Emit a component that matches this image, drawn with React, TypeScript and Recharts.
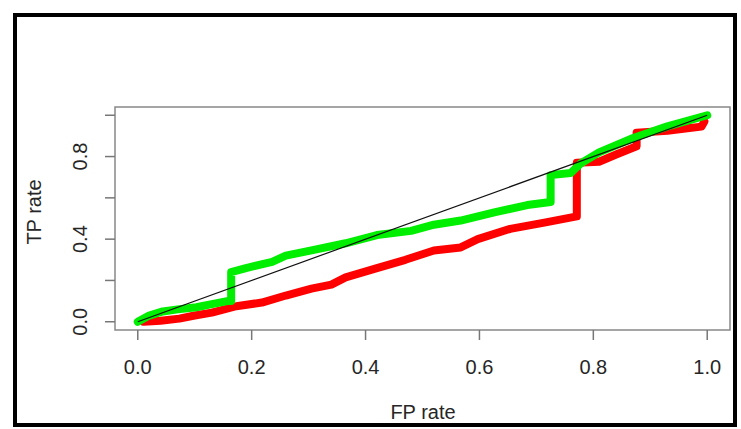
import React from "react";
import { Line, LineChart, ReferenceArea, XAxis, YAxis } from "recharts";

// ROC curves (FP rate -> TP rate)
const greenFp = [0, 0.02, 0.044, 0.07, 0.103, 0.13, 0.157, 0.164, 0.164, 0.19, 0.236, 0.26, 0.305, 0.365, 0.42, 0.48, 0.52, 0.567, 0.626, 0.684, 0.725, 0.725, 0.76, 0.777, 0.81, 0.87, 0.93, 1.0];
const greenTp = [0, 0.03, 0.05, 0.06, 0.07, 0.085, 0.1, 0.1, 0.24, 0.26, 0.29, 0.32, 0.346, 0.38, 0.42, 0.44, 0.47, 0.49, 0.53, 0.565, 0.58, 0.71, 0.72, 0.765, 0.82, 0.89, 0.946, 1.0];

const redFp = [0.01, 0.04, 0.073, 0.1, 0.13, 0.173, 0.218, 0.26, 0.305, 0.34, 0.365, 0.42, 0.47, 0.52, 0.567, 0.597, 0.654, 0.714, 0.771, 0.771, 0.81, 0.84, 0.876, 0.876, 0.93, 0.958, 0.99, 0.995];
const redTp = [0, 0.005, 0.015, 0.03, 0.044, 0.075, 0.093, 0.127, 0.16, 0.18, 0.215, 0.26, 0.3, 0.345, 0.36, 0.4, 0.45, 0.48, 0.51, 0.77, 0.775, 0.81, 0.85, 0.915, 0.925, 0.935, 0.945, 0.97];

const diagFp = [0, 1];
const diagTp = [0, 1];

const xTicks = [0, 0.2, 0.4, 0.6, 0.8, 1.0];
const yTicks = [0, 0.2, 0.4, 0.6, 0.8, 1.0];
const yLabelled = [0, 0.4, 0.8];

const toPoints = (fp: number[], tp: number[]) => fp.map((f, i) => ({ fp: f, tp: tp[i] }));

const green = toPoints(greenFp, greenTp);
const red = toPoints(redFp, redTp);
const diag = toPoints(diagFp, diagTp);

const FONT = "'Liberation Sans', Arial, sans-serif";
const TEXT = "#262626";
const AXIS = "#777";

function XTick({ x, payload }: any) {
  return (
    <text x={x} y={374} textAnchor="middle" fontSize={20} fontFamily={FONT} fill={TEXT}>
      {payload.value.toFixed(1)}
    </text>
  );
}

function YTick({ y, payload }: any) {
  if (!yLabelled.includes(payload.value)) return <g />;
  return (
    <text
      x={87}
      y={y}
      transform={`rotate(-90 87 ${y})`}
      textAnchor="middle"
      fontSize={20}
      fontFamily={FONT}
      fill={TEXT}
    >
      {payload.value.toFixed(1)}
    </text>
  );
}

export default function App() {
  return (
    <div style={{ position: "absolute", left: 0, top: 0, width: 741, height: 429, background: "#fff" }}>
      <LineChart
        width={741}
        height={429}
        margin={{ top: 107, right: 11, left: 55, bottom: 49 }}
        style={{ position: "absolute", left: 0, top: 0 }}
      >
        <XAxis
          type="number"
          dataKey="fp"
          domain={[-0.04, 1.04]}
          ticks={xTicks}
          allowDataOverflow
          height={50}
          axisLine={false}
          tickSize={10}
          tickLine={{ stroke: AXIS, strokeWidth: 1.5 }}
          tick={<XTick />}
          label={() => (
            <text x={423} y={419} textAnchor="middle" fontSize={20} fontFamily={FONT} fill={TEXT}>
              FP rate
            </text>
          )}
        />
        <YAxis
          type="number"
          dataKey="tp"
          domain={[-0.04, 1.04]}
          ticks={yTicks}
          allowDataOverflow
          width={60}
          axisLine={false}
          tickSize={10}
          tickLine={{ stroke: AXIS, strokeWidth: 1.5 }}
          tick={<YTick />}
          label={() => (
            <text
              x={41}
              y={212}
              transform="rotate(-90 41 212)"
              textAnchor="middle"
              fontSize={20}
              fontFamily={FONT}
              fill={TEXT}
            >
              TP rate
            </text>
          )}
        />
        <ReferenceArea
          x1={-0.04}
          x2={1.04}
          y1={-0.04}
          y2={1.04}
          fill="none"
          stroke="#888"
          strokeWidth={1.5}
          fillOpacity={0}
        />
        <Line
          data={red}
          dataKey="tp"
          type="linear"
          stroke="#ff0000"
          strokeWidth={8}
          strokeLinecap="round"
          strokeLinejoin="round"
          dot={false}
          isAnimationActive={false}
        />
        <Line
          data={green}
          dataKey="tp"
          type="linear"
          stroke="#00ee00"
          strokeWidth={8}
          strokeLinecap="round"
          strokeLinejoin="round"
          dot={false}
          isAnimationActive={false}
        />
        <Line
          data={diag}
          dataKey="tp"
          type="linear"
          stroke="#111"
          strokeWidth={1.2}
          dot={false}
          isAnimationActive={false}
        />
      </LineChart>
      <div
        style={{
          position: "absolute",
          left: 13,
          top: 13,
          width: 724,
          height: 414,
          border: "4px solid #000",
          boxSizing: "border-box",
          pointerEvents: "none"
        }}
      />
    </div>
  );
}
